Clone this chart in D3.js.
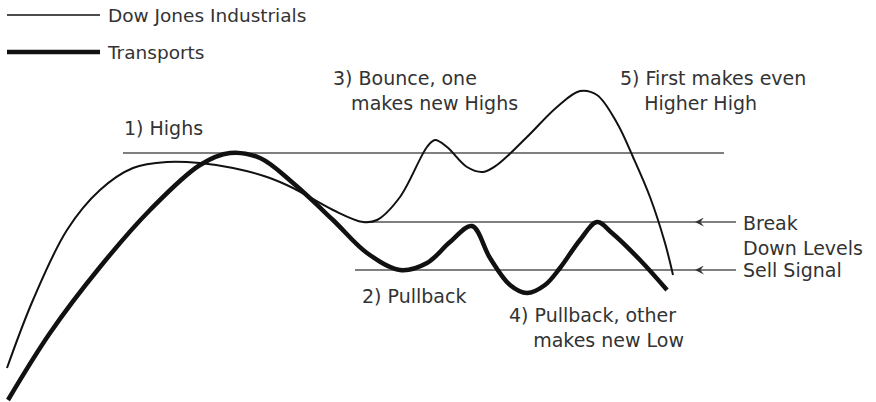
<!DOCTYPE html>
<html>
<head>
<meta charset="utf-8">
<script src="https://cdn.jsdelivr.net/npm/d3@7"></script>
<style>
  body { margin: 0; background: #fff; }
  text { font-family: "DejaVu Sans", sans-serif; fill: #333; }
</style>
</head>
<body>
<div id="viz-container"></div>
<script>
// time / level pairs (level grows upward)
var dowTime  = [7, 33, 67, 100, 133, 167, 200, 233, 267, 293, 333, 363, 377, 400, 427, 435, 447, 467, 483, 497, 527, 557, 580, 597, 617, 633, 650, 665, 673];
var dowLevel = [34, 102, 172, 212, 234, 240, 239, 234, 225, 214, 192, 180, 182, 205, 255, 262, 255, 235, 230, 237, 265, 295, 311, 307, 279, 245, 205, 159, 127];

var tranTime  = [8, 50, 100, 150, 200, 230, 260, 293, 333, 367, 400, 427, 450, 472, 490, 510, 527, 545, 560, 580, 597, 612, 640, 667];
var tranLevel = [2, 69, 135, 192, 237, 249, 244, 219, 182, 149, 132, 139, 160, 176, 144, 117, 109, 117, 134, 162, 180, 169, 142, 112];

// reference levels
var levelNames = ["Highs", "Break", "Sell"];
var levelValue = [249, 180, 132];
var levelFrom  = [123, 363, 355];
var levelTo    = [724, 736, 736];

var legendNames = ["Dow Jones Industrials", "Transports"];

var notes = [
  {lines: ["1) Highs"], t: 124, v: 267},
  {lines: ["3) Bounce, one", "   makes new Highs"], t: 333, v: 317},
  {lines: ["5) First makes even", "    Higher High"], t: 620, v: 317},
  {lines: ["2) Pullback"], t: 362, v: 99},
  {lines: ["4) Pullback, other", "    makes new Low"], t: 509, v: 80},
  {lines: ["Break", "Down Levels"], t: 743, v: 172},
  {lines: ["Sell Signal"], t: 743, v: 125}
];

var W = 876, H = 402;
var x = d3.scaleLinear().domain([0, 876]).range([0, 876]);
var y = d3.scaleLinear().domain([0, 402]).range([402, 0]);

var svg = d3.select("#viz-container").append("svg")
  .attr("width", W).attr("height", H);

svg.append("defs").append("marker")
  .attr("id", "arr")
  .attr("viewBox", "0 0 10 10")
  .attr("refX", 10).attr("refY", 5)
  .attr("markerWidth", 13).attr("markerHeight", 9)
  .attr("markerUnits", "userSpaceOnUse")
  .attr("orient", "auto")
  .append("path")
  .attr("d", "M0,0 L10,5 L0,10 L4,5 Z")
  .attr("fill", "#333");

// horizontal levels
svg.selectAll(".lvl").data(levelNames).enter()
  .append("line")
  .attr("class", "lvl")
  .attr("x1", (d, i) => x(levelFrom[i]))
  .attr("x2", (d, i) => x(levelTo[i]))
  .attr("y1", (d, i) => y(levelValue[i]))
  .attr("y2", (d, i) => y(levelValue[i]))
  .attr("stroke", "#555")
  .attr("stroke-width", 1.4);

// arrows pointing at the break-down levels
svg.selectAll(".arr").data([1, 2]).enter()
  .append("line")
  .attr("class", "arr")
  .attr("x1", x(736))
  .attr("x2", x(695))
  .attr("y1", i => y(levelValue[i]))
  .attr("y2", i => y(levelValue[i]))
  .attr("stroke", "none")
  .attr("marker-end", "url(#arr)");

var line = d3.line()
  .x(d => x(d[0]))
  .y(d => y(d[1]))
  .curve(d3.curveCatmullRom.alpha(0.5));

svg.append("path")
  .datum(dowTime.map((t, i) => [t, dowLevel[i]]))
  .attr("d", line)
  .attr("fill", "none")
  .attr("stroke", "#111")
  .attr("stroke-width", 2);

svg.append("path")
  .datum(tranTime.map((t, i) => [t, tranLevel[i]]))
  .attr("d", line)
  .attr("fill", "none")
  .attr("stroke", "#111")
  .attr("stroke-width", 4.5)
  .attr("stroke-linejoin", "round");

// legend
var lg = svg.selectAll(".lg").data(legendNames).enter()
  .append("g").attr("class", "lg")
  .attr("transform", (d, i) => "translate(0," + (15 + i * 37) + ")");
lg.append("line")
  .attr("x1", 7).attr("x2", 100)
  .attr("stroke", "#111")
  .attr("stroke-width", (d, i) => i == 0 ? 1.5 : 4.5);
lg.append("text")
  .attr("x", 108).attr("y", 7)
  .style("font-size", "18.5px")
  .text(d => d);

// annotations
var nt = svg.selectAll(".note").data(notes).enter()
  .append("text").attr("class", "note")
  .attr("x", d => x(d.t))
  .attr("y", d => y(d.v))
  .style("font-size", "19px")
  .attr("xml:space", "preserve");
nt.selectAll("tspan").data(d => d.lines.map(l => [l, d.t])).enter()
  .append("tspan")
  .attr("x", d => x(d[1]))
  .attr("dy", (d, i) => i == 0 ? 0 : 25)
  .style("white-space", "pre")
  .text(d => d[0]);
</script>
</body>
</html>
